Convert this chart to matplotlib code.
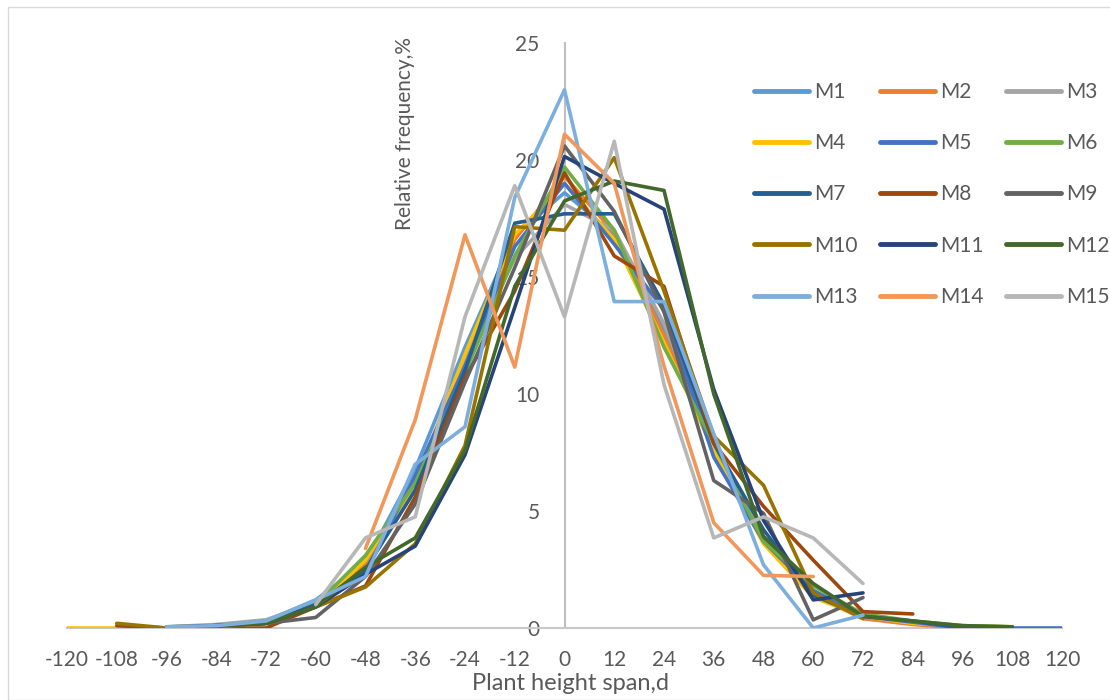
import numpy as np
import matplotlib
matplotlib.use("Agg")
import matplotlib.pyplot as plt
from matplotlib.patches import Rectangle

nan = np.nan
categories = [-120, -108, -96, -84, -72, -60, -48, -36, -24, -12, 0, 12, 24, 36, 48, 60, 72, 84, 96, 108, 120]
tick_labels = [str(c) for c in categories]
series_names = ["M%d" % i for i in range(1, 16)]
colors = ["#5B9BD5", "#ED7D31", "#A5A5A5", "#FFC000", "#4472C4", "#70AD47", "#255E91",
          "#9E480E", "#636363", "#997300", "#264478", "#43682B", "#7CAFDD", "#F1975A", "#B7B7B7"]

M1 = [nan, nan, 0.0, 0.1, 0.3, 1.2, 2.8, 6.8, 12.0, 16.8, 18.6, 16.8, 12.8, 7.8, 3.9, 1.5, 0.5, 0.2, 0.0, 0.05, nan]
M2 = [nan, nan, 0.0, 0.1, 0.2, 1.0, 2.8, 6.2, 11.4, 16.6, 19.3, 16.9, 12.5, 7.5, 3.8, 1.4, 0.4, 0.15, 0.0, nan, nan]
M3 = [nan, nan, 0.05, 0.15, 0.35, 1.1, 2.9, 6.4, 11.4, 15.8, 18.1, 17.0, 13.0, 7.6, 3.9, 1.6, 0.5, 0.2, 0.05, nan, nan]
M4 = [0.0, 0.0, 0.0, 0.1, 0.2, 0.9, 2.9, 6.2, 11.7, 16.8, 19.0, 16.6, 12.2, 7.6, 3.6, 1.3, 0.5, 0.2, 0.1, 0.05, nan]
M5 = [nan, nan, 0.0, 0.1, 0.2, 1.0, 2.4, 6.5, 11.2, 16.3, 19.0, 16.4, 13.6, 7.3, 3.7, 1.6, 0.5, 0.25, 0.0, 0.0, 0.0]
M6 = [nan, nan, 0.0, 0.1, 0.3, 1.0, 3.1, 6.2, 10.9, 15.9, 19.7, 17.0, 12.0, 7.9, 3.7, 1.8, 0.6, 0.3, 0.1, 0.05, nan]
M7 = [nan, nan, 0.0, 0.1, 0.2, 1.0, 2.5, 5.9, 11.0, 17.3, 17.7, 17.7, 13.8, 7.9, 4.2, 1.4, 0.5, 0.3, 0.0, 0.05, nan]
M8 = [nan, 0.1, 0.0, 0.0, 0.0, 0.9, 1.8, 5.6, 10.7, 14.4, 19.45, 15.9, 14.6, 7.9, 5.2, 2.9, 0.7, 0.6, nan, nan, nan]
M9 = [nan, nan, 0.05, 0.1, 0.2, 0.45, 2.2, 5.3, 10.5, 15.4, 20.6, 17.8, 13.5, 6.3, 4.9, 0.35, 1.3, nan, nan, nan, nan]
M10 = [nan, 0.2, 0.0, 0.05, 0.2, 0.9, 1.75, 3.6, 7.8, 17.15, 17.0, 20.1, 14.4, 8.2, 6.1, 1.5, 0.4, nan, nan, nan, nan]
M11 = [nan, nan, 0.0, 0.1, 0.2, 0.9, 2.3, 3.5, 7.4, 13.7, 20.15, 19.0, 17.9, 10.2, 4.6, 1.2, 1.5, nan, nan, nan, nan]
M12 = [nan, nan, 0.0, 0.1, 0.2, 0.9, 2.6, 3.85, 7.6, 14.6, 18.25, 19.1, 18.7, 10.0, 3.9, 1.9, 0.5, 0.3, 0.1, 0.05, nan]
M13 = [nan, nan, 0.05, 0.1, 0.3, 1.2, 2.2, 7.0, 8.6, 18.4, 23.0, 13.95, 13.95, 8.3, 2.7, 0.0, 0.55, nan, nan, nan, nan]
M14 = [nan, nan, nan, nan, nan, nan, 3.4, 8.9, 16.8, 11.15, 21.1, 19.0, 11.2, 4.5, 2.25, 2.2, nan, nan, nan, nan, nan]
M15 = [nan, nan, nan, nan, nan, 1.0, 3.85, 4.75, 13.3, 18.9, 13.3, 20.8, 10.4, 3.85, 4.75, 3.85, 1.9, nan, nan, nan, nan]
series_values = [M1, M2, M3, M4, M5, M6, M7, M8, M9, M10, M11, M12, M13, M14, M15]

plt.rcParams['font.family'] = ['Lato', 'DejaVu Sans']
txt = "#595959"
W, H = 1110, 700
fig = plt.figure(figsize=(W / 100, H / 100), dpi=100)
fig.patches.append(Rectangle((7.5 / W, 0), 1.2, 1 - 6.5 / H, transform=fig.transFigure,
                             fill=False, edgecolor="#D9D9D9", linewidth=1.0))
ax = fig.add_axes([67 / W, 72 / H, (1062 - 67) / W, (628 - 43) / H])

handles = []
for name, vals, col in zip(series_names, series_values, colors):
    ln, = ax.plot(categories, vals, color=col, lw=2.6, label=name, zorder=3,
                  solid_joinstyle='round', solid_capstyle='round')
    handles.append(ln)

ax.set_xlim(-120, 120)
ax.set_ylim(0, 25)
ax.set_xticks(categories)
ax.set_xticklabels(tick_labels)
ax.set_yticks([0, 5, 10, 15, 20, 25])
for s in ['top', 'right']:
    ax.spines[s].set_visible(False)
ax.spines['left'].set_position(('data', 0))
ax.spines['left'].set_color("#BFBFBF")
ax.spines['left'].set_linewidth(1.5)
ax.spines['bottom'].set_color("#C8C8C8")
ax.spines['bottom'].set_linewidth(1.5)
ax.tick_params(axis='both', length=0, colors=txt, labelsize=15)
ax.tick_params(axis='y', pad=18)
ax.tick_params(axis='x', pad=16)

fig.text(405 / W, 1 - 134 / H, "Relative frequency,%", rotation=90, ha='center', va='center',
         color=txt, fontsize=15)
fig.text(570 / W, 1 - 684 / H, "Plant height span,d", ha='center', va='center',
         color=txt, fontsize=17)

ncol = 3
nrow = 5
order = [r * ncol + c for c in range(ncol) for r in range(nrow)]
leg = ax.legend([handles[i] for i in order], [series_names[i] for i in order],
                ncol=ncol, loc='upper left', bbox_to_anchor=(754 / W, 1 - 82 / H),
                bbox_transform=fig.transFigure, frameon=False, fontsize=15,
                handlelength=2.65, handletextpad=0.25, columnspacing=1.05, labelspacing=1.5,
                borderaxespad=0, borderpad=0)
for t in leg.get_texts():
    t.set_color(txt)
for l in leg.get_lines():
    l.set_linewidth(3.5)
    l.set_solid_capstyle('round')

fig.savefig("out.png", dpi=100)
